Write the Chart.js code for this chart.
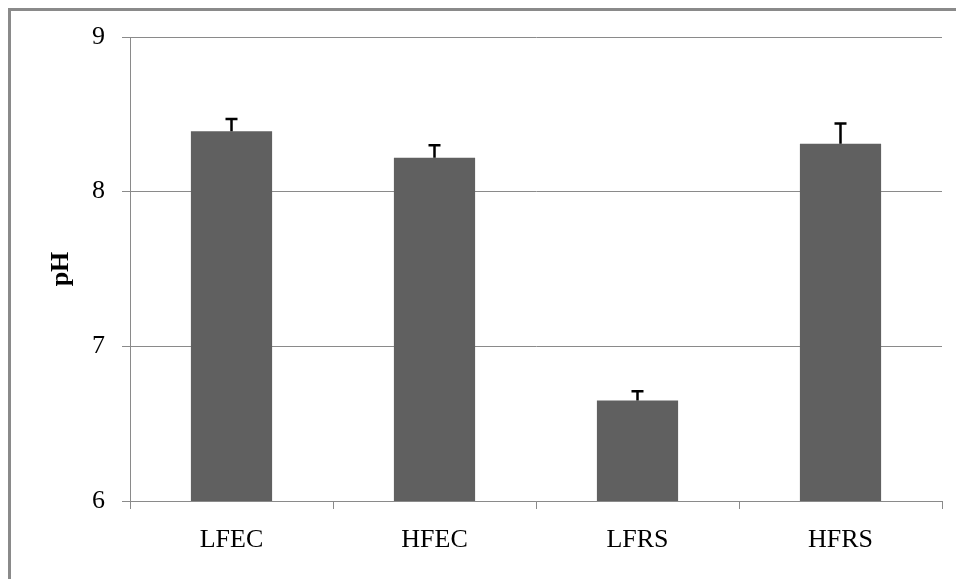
<!DOCTYPE html>
<html>
<head>
<meta charset="utf-8">
<script src="https://cdn.jsdelivr.net/npm/chart.js@4/dist/chart.umd.min.js"></script>
<style>
  html, body { margin: 0; padding: 0; background: #fff; width: 956px; height: 579px; overflow: hidden; }
  #frame { position: absolute; left: 8px; top: 8px; width: 2000px; height: 2000px;
           border-left: 3px solid #8a8a8a; border-top: 3px solid #8a8a8a; box-sizing: border-box; }
  #wrap { position: absolute; left: 0; top: 0; width: 956px; height: 579px; }
</style>
</head>
<body>
<div id="frame"></div>
<div id="wrap"><canvas id="c" width="956" height="579"></canvas></div>
<script>
const categories = ["LFEC", "HFEC", "LFRS", "HFRS"];
const phValues = [8.39, 8.22, 6.65, 8.31];
const phErrors = [0.08, 0.08, 0.06, 0.13];
const yTicks = [6, 7, 8, 9];

const SERIF = "'Liberation Serif', 'Times New Roman', Times, serif";

const errorBarPlugin = {
  id: 'errorBars',
  afterDatasetsDraw(chart) {
    const ctx = chart.ctx;
    const meta = chart.getDatasetMeta(0);
    const yScale = chart.scales.y;
    ctx.save();
    ctx.strokeStyle = '#000';
    ctx.lineWidth = 2.5;
    meta.data.forEach((bar, i) => {
      const x = bar.x;
      const yTop = yScale.getPixelForValue(phValues[i] + phErrors[i]);
      const yBase = yScale.getPixelForValue(phValues[i]);
      ctx.beginPath();
      ctx.moveTo(x, yBase);
      ctx.lineTo(x, yTop);
      ctx.moveTo(x - 6, yTop);
      ctx.lineTo(x + 6, yTop);
      ctx.stroke();
    });
    ctx.restore();
  }
};

new Chart(document.getElementById('c'), {
  type: 'bar',
  data: {
    labels: categories,
    datasets: [{
      data: phValues,
      backgroundColor: '#606060',
      borderWidth: 0,
      barPercentage: 0.4,
      categoryPercentage: 1.0
    }]
  },
  options: {
    responsive: false,
    animation: false,
    devicePixelRatio: 1,
    layout: { padding: { left: 0, top: 37, right: 14, bottom: 0 } },
    plugins: { legend: { display: false }, tooltip: { enabled: false } },
    scales: {
      x: {
        grid: { display: true, offset: true, drawOnChartArea: false, drawTicks: true, tickLength: 8, color: '#8a8a8a', lineWidth: 1 },
        border: { display: true, color: '#8a8a8a', width: 1 },
        ticks: { color: '#000', font: { family: SERIF, size: 26 }, padding: 16 },
        afterFit(scale) { scale.height = 78; }
      },
      y: {
        min: 6, max: 9,
        afterBuildTicks(scale) { scale.ticks = yTicks.map(v => ({ value: v })); },
        grid: { color: '#8a8a8a', lineWidth: 1, drawTicks: true, tickLength: 8 },
        border: { display: true, color: '#8a8a8a', width: 1 },
        ticks: { color: '#000', font: { family: SERIF, size: 26 }, padding: 17 },
        title: { display: true, text: 'pH', color: '#000', font: { family: SERIF, size: 26, weight: 'bold' }, padding: { top: 46, bottom: 0 } },
        afterFit(scale) { scale.width = 130; }
      }
    }
  },
  plugins: [errorBarPlugin]
});
</script>
</body>
</html>
